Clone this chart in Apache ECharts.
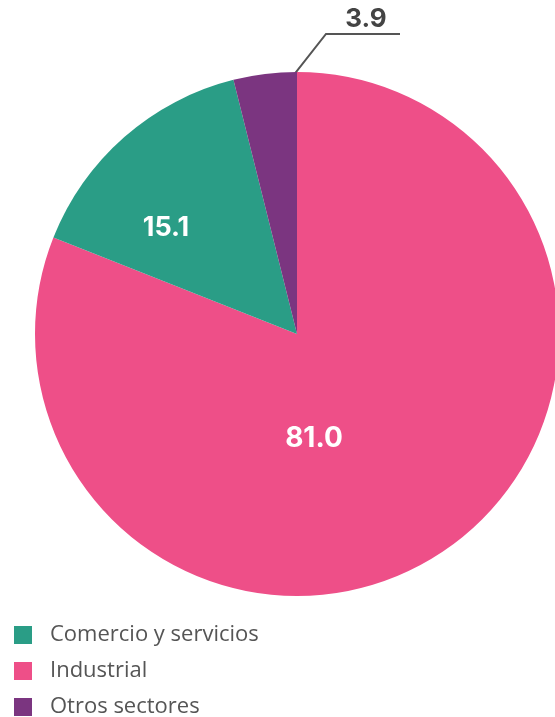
<!DOCTYPE html>
<html><head><meta charset="utf-8">
<script src="https://cdn.jsdelivr.net/npm/echarts@6/dist/echarts.min.js"></script>
<style>html,body{margin:0;padding:0;background:#fff}#c{width:555px;height:717px}</style>
</head><body><div id="c"></div>
<script>
const categories = ['Industrial', 'Comercio y servicios', 'Otros sectores'];
const values = [81.0, 15.1, 3.9];
const colors = ['#EE4F88', '#2A9D86', '#7B3580'];
const legendOrder = ['Comercio y servicios', 'Industrial', 'Otros sectores'];

const CX = 297, CY = 334, R = 262;
const chart = echarts.init(document.getElementById('c'));
const labelPos = [
  {x: 314, y: 439},
  {x: 166, y: 228},
  {x: 366, y: 19}
];
// leader line for the small slice: starts inside the slice near its edge
const a0 = -1.6 * Math.PI / 180; // angle from 12 o'clock, clockwise
const p0 = [CX + 0.97 * R * Math.sin(a0), CY - 0.97 * R * Math.cos(a0)];
chart.setOption({
  animation: false,
  legend: {
    orient: 'vertical', left: 9, top: 619, height: 110,
    data: legendOrder,
    itemWidth: 18, itemHeight: 18, itemGap: 14, icon: 'rect',
    textStyle: {fontFamily: 'Open Sans', fontSize: 22, color: '#555', padding: [0,0,0,13]}
  },
  graphic: [{
    type: 'polyline', silent: true,
    shape: {points: [p0, [326, 34], [400, 34]]},
    style: {stroke: '#555', lineWidth: 2, fill: null}
  }],
  series: [{
    type: 'pie',
    center: [CX, CY], radius: R,
    startAngle: 90, clockwise: true,
    data: categories.map((n, i) => ({name: n, value: values[i], itemStyle: {color: colors[i]},
      label: i === 2 ? {color: '#444', fontSize: 26} : {color: '#fff', fontSize: i === 0 ? 28 : 27}})),
    label: {
      show: true, position: 'inside', formatter: p => p.value.toFixed(1),
      fontFamily: 'Inter', fontWeight: 'bold'
    },
    labelLine: {show: false},
    labelLayout: function (p) {
      const q = labelPos[p.dataIndex];
      return {x: q.x, y: q.y, align: 'center', verticalAlign: 'middle'};
    }
  }]
});
</script></body></html>
